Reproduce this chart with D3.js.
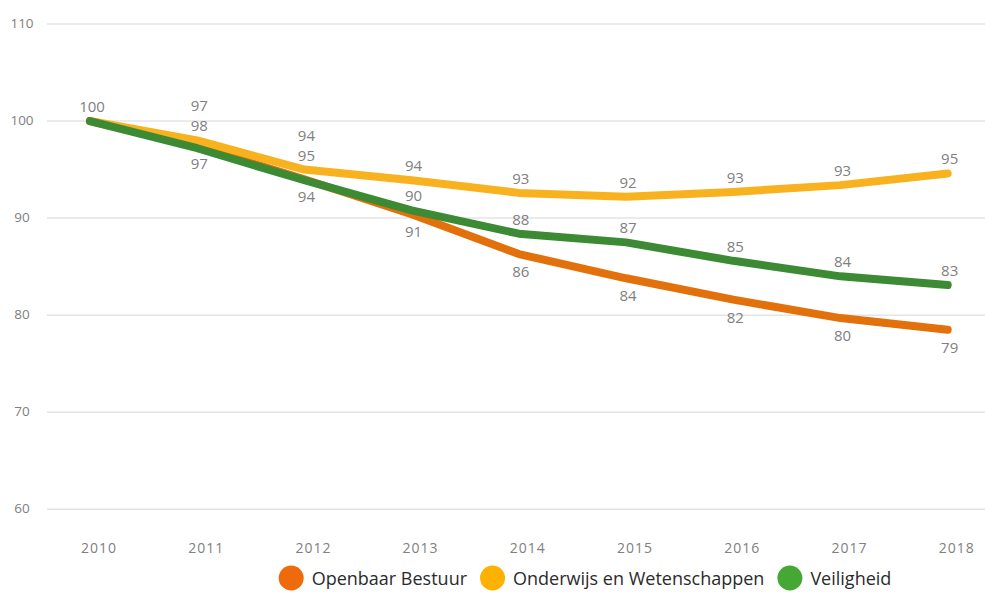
<!DOCTYPE html>
<html>
<head>
<meta charset="utf-8">
<script src="https://cdn.jsdelivr.net/npm/d3@7"></script>
<style>
  html, body { margin: 0; padding: 0; background: #fff; }
  svg { display: block; }
  text { font-family: "Open Sans", Lato, sans-serif; }
</style>
</head>
<body>
<svg id="chart" width="985" height="592"></svg>
<script>
// ---- data ----
const years = ["2010", "2011", "2012", "2013", "2014", "2015", "2016", "2017", "2018"];
const yTicks = [60, 70, 80, 90, 100, 110];

const seriesNames = ["Openbaar Bestuur", "Onderwijs en Wetenschappen", "Veiligheid"];

const openbaarBestuur = [100, 97.4, 94.0, 90.4, 86.3, 83.8, 81.6, 79.7, 78.5];
const onderwijs       = [100, 98.0, 95.0, 93.9, 92.6, 92.2, 92.7, 93.4, 94.6];
const veiligheid      = [100, 97.2, 93.9, 90.8, 88.4, 87.5, 85.6, 84.0, 83.1];

const labelsOpenbaar  = [null, "97", "94", "91", "86", "84", "82", "80", "79"];
const labelsOnderwijs = ["100", "98", "95", "94", "93", "92", "93", "93", "95"];
const labelsVeilig    = [null, "97", "94", "90", "88", "87", "85", "84", "83"];

// ---- styling / layout ----
const lineColors   = ["#E2710C", "#F9B21F", "#3C8A33"];
const legendColors = ["#EE6A0A", "#FDB100", "#45A835"];
const labelSide    = ["below", "above", "above"];
const textGrey = "#808080";

const svg = d3.select("#chart");

const x = d3.scalePoint().domain(years).range([90, 947.7]);
const y = d3.scaleLinear().domain([60, 110]).range([509.3, 24]);

// gridlines
svg.append("g").selectAll("line")
  .data(yTicks).join("line")
  .attr("x1", 47).attr("x2", 985)
  .attr("y1", d => y(d)).attr("y2", d => y(d))
  .attr("stroke", "#e4e4e4").attr("stroke-width", 1.5);

// y axis labels
svg.append("g").selectAll("text")
  .data(yTicks).join("text")
  .attr("x", 22).attr("y", d => y(d) - 1)
  .attr("text-anchor", "middle").attr("dominant-baseline", "central")
  .attr("fill", textGrey).attr("font-size", 13.5)
  .text(d => d);

// x axis labels
svg.append("g").selectAll("text")
  .data(years).join("text")
  .attr("x", d => x(d) + 9).attr("y", 547)
  .attr("text-anchor", "middle").attr("dominant-baseline", "central")
  .attr("fill", textGrey).attr("font-size", 14).attr("letter-spacing", 1)
  .text(d => d);

const series = [
  { name: seriesNames[0], values: openbaarBestuur, labels: labelsOpenbaar, i: 0 },
  { name: seriesNames[1], values: onderwijs, labels: labelsOnderwijs, i: 1 },
  { name: seriesNames[2], values: veiligheid, labels: labelsVeilig, i: 2 }
];

const line = d3.line()
  .x((d, j) => x(years[j]))
  .y(d => y(d));

svg.append("g").selectAll("path")
  .data(series).join("path")
  .attr("d", s => line(s.values))
  .attr("fill", "none")
  .attr("stroke", s => lineColors[s.i])
  .attr("stroke-width", 8)
  .attr("stroke-linecap", "round")
  .attr("stroke-linejoin", "round");

// data labels with simple collision avoidance per year
const labelItems = [];
years.forEach((yr, j) => {
  const above = [], below = [];
  const pys = series.map(s => y(s.values[j]));
  series.forEach(s => {
    if (s.labels[j] == null) return;
    const py = pys[s.i];
    const item = { text: s.labels[j], x: x(yr) + 2, side: labelSide[s.i], py };
    if (item.side === "above") {
      let ly = py - 15;
      // keep clear of another line running just above this point
      pys.forEach(o => {
        if (o < py && ly - 8 < o + 4 && ly + 8 > o - 4) ly = Math.min(ly, o - 15);
      });
      item.ly = ly; above.push(item);
    } else { item.ly = py + 17; below.push(item); }
  });
  above.sort((a, b) => b.ly - a.ly);
  for (let k = 1; k < above.length; k++) {
    if (above[k].ly > above[k - 1].ly - 20) above[k].ly = above[k - 1].ly - 20;
  }
  below.sort((a, b) => a.ly - b.ly);
  for (let k = 1; k < below.length; k++) {
    if (below[k].ly < below[k - 1].ly + 20) below[k].ly = below[k - 1].ly + 20;
  }
  labelItems.push(...above, ...below);
});

svg.append("g").selectAll("text")
  .data(labelItems).join("text")
  .attr("x", d => d.x).attr("y", d => d.ly)
  .attr("text-anchor", "middle").attr("dominant-baseline", "central")
  .attr("fill", textGrey).attr("font-size", 15)
  .text(d => d.text);

// legend
const legend = svg.append("g");
const lr = 12.5, gapText = 8, gapItem = 13;
let cursor = 0;
seriesNames.forEach((name, i) => {
  const g = legend.append("g");
  g.append("circle").attr("cx", lr).attr("cy", 0).attr("r", lr).attr("fill", legendColors[i]);
  const t = g.append("text")
    .attr("x", 2 * lr + gapText).attr("y", 0)
    .attr("dominant-baseline", "central")
    .attr("fill", "#2b2b2b").attr("font-size", 18)
    .text(name);
  const w = 2 * lr + gapText + t.node().getComputedTextLength();
  g.attr("transform", `translate(${cursor},0)`);
  cursor += w + gapItem;
});
const totalW = cursor - gapItem;
legend.attr("transform", `translate(${585 - totalW / 2}, 578)`);
</script>
</body>
</html>
